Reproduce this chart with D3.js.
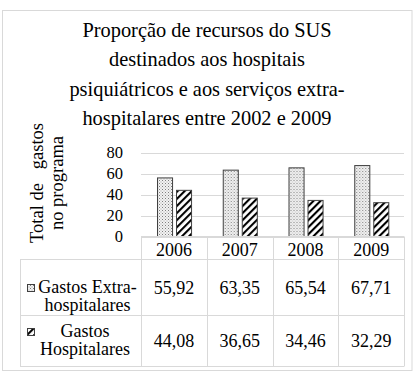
<!DOCTYPE html>
<html>
<head>
<meta charset="utf-8">
<script src="https://cdn.jsdelivr.net/npm/d3@7"></script>
<style>
  body { margin: 0; background: #fff; }
</style>
</head>
<body>
<div id="chart"></div>
<script>
const titleLines = [
    'Proporção de recursos do SUS',
    'destinados aos hospitais',
    'psiquiátricos e aos serviços extra-',
    'hospitalares entre 2002 e 2009',
];
const yTitleLines = ['Total de   gastos', 'no programa'];
const years = ['2006', '2007', '2008', '2009'];
const seriesNames = ['extra', 'hosp'];
const extraValues = [55.92, 63.35, 65.54, 67.71];
const hospValues = [44.08, 36.65, 34.46, 32.29];
const extraLabel = ['Gastos Extra-', 'hospitalares'];
const hospLabel = ['Gastos', 'Hospitalares'];
const yTicks = [0, 20, 40, 60, 80];

const width = 417;
const height = 374;
const font = 'Liberation Serif';
const gridColor = '#d9d9d9';
const lineColor = '#404040';

const svg = d3.select('#chart').append('svg')
    .attr('width', width)
    .attr('height', height)
    .attr('font-family', font)
    .style('display', 'block');

/* s: patterns */
const defs = svg.append('defs');
const dots = defs.append('pattern')
    .attr('id', 'dots')
    .attr('width', 3)
    .attr('height', 3)
    .attr('patternUnits', 'userSpaceOnUse');
dots.append('rect').attr('width', 3).attr('height', 3).attr('fill', '#f2f2f2');
dots.append('rect').attr('x', 0).attr('y', 0).attr('width', 1).attr('height', 1).attr('fill', '#7f7f7f');
dots.append('rect').attr('x', 1.5).attr('y', 1.5).attr('width', 1).attr('height', 1).attr('fill', '#a6a6a6');

const hatch = defs.append('pattern')
    .attr('id', 'hatch')
    .attr('width', 5)
    .attr('height', 5)
    .attr('patternUnits', 'userSpaceOnUse')
    .attr('patternTransform', 'rotate(45)');
hatch.append('rect').attr('width', 5).attr('height', 5).attr('fill', '#fff');
hatch.append('line')
    .attr('x1', 1).attr('y1', 0).attr('x2', 1).attr('y2', 5)
    .attr('stroke', '#000').attr('stroke-width', 2.2);
/* e: patterns */

// outer border
svg.append('rect')
    .attr('x', 2.5).attr('y', 10.5)
    .attr('width', 409.5).attr('height', 360)
    .attr('fill', 'none')
    .attr('stroke', gridColor);

// title
svg.append('g')
    .selectAll('text')
    .data(titleLines)
    .join('text')
    .attr('x', 207)
    .attr('y', (d, i) => 37 + i * 29.3)
    .attr('text-anchor', 'middle')
    .attr('font-size', 20.4)
    .attr('font-family', font)
    .attr('fill', '#000')
    .text((d) => d);

// scales
const x0 = d3.scaleBand().domain(years).range([141, 404]);
const x1 = d3.scaleBand()
    .domain(seriesNames)
    .range([0, x0.bandwidth()])
    .paddingInner(0.21)
    .paddingOuter(0.83);
const y = d3.scaleLinear().domain([0, 80]).range([236.5, 152.7]);

// gridlines
svg.append('g')
    .selectAll('line')
    .data(yTicks)
    .join('line')
    .attr('x1', 141).attr('x2', 404)
    .attr('y1', (d) => Math.round(y(d)) + 0.5)
    .attr('y2', (d) => Math.round(y(d)) + 0.5)
    .attr('stroke', gridColor);

// y tick labels
svg.append('g')
    .selectAll('text')
    .data(yTicks)
    .join('text')
    .attr('x', 123)
    .attr('y', (d) => y(d) + 5.5)
    .attr('text-anchor', 'end')
    .attr('font-size', 16.5)
    .attr('font-family', font)
    .text((d) => d);

// y title
const yTitle = svg.append('g').attr('transform', 'translate(0,183) rotate(-90)');
yTitle.selectAll('text')
    .data(yTitleLines)
    .join('text')
    .attr('x', 0)
    .attr('y', (d, i) => 42.5 + i * 20.5)
    .attr('text-anchor', 'middle')
    .attr('font-size', 18.5)
    .attr('font-family', font)
    .style('white-space', 'pre')
    .text((d) => d);

// bars
const rows = years.map((yr, i) => ({ year: yr, extra: extraValues[i], hosp: hospValues[i] }));
const groups = svg.append('g')
    .selectAll('g')
    .data(rows)
    .join('g')
    .attr('transform', (d) => `translate(${x0(d.year)},0)`);
groups.selectAll('rect')
    .data((d) => seriesNames.map((k) => ({ key: k, value: d[k] })))
    .join('rect')
    .attr('x', (d) => Math.round(x1(d.key)) + 0.5)
    .attr('y', (d) => y(d.value))
    .attr('width', x1.bandwidth())
    .attr('height', (d) => y(0) - y(d.value))
    .attr('fill', (d) => (d.key === 'extra' ? 'url(#dots)' : 'url(#hatch)'))
    .attr('stroke', lineColor)
    .attr('stroke-width', 1);

/* s: data table */
const table = svg.append('g').attr('stroke', gridColor).attr('fill', 'none');
const rowLines = [259, 315, 366];
table.selectAll('.h')
    .data(rowLines)
    .join('line')
    .attr('x1', 20).attr('x2', 404)
    .attr('y1', (d) => d + 0.5).attr('y2', (d) => d + 0.5);
table.append('line')
    .attr('x1', 141).attr('x2', 404)
    .attr('y1', 236.5).attr('y2', 236.5);
const colLines = years.map((d) => x0(d)).concat([404]);
table.selectAll('.v')
    .data(colLines)
    .join('line')
    .attr('x1', (d) => Math.round(d) + 0.5).attr('x2', (d) => Math.round(d) + 0.5)
    .attr('y1', 236.5).attr('y2', 366.5);
table.append('line')
    .attr('x1', 20.5).attr('x2', 20.5)
    .attr('y1', 259.5).attr('y2', 366.5);

// year labels
svg.append('g')
    .selectAll('text')
    .data(years)
    .join('text')
    .attr('x', (d) => x0(d) + x0.bandwidth() / 2)
    .attr('y', 256)
    .attr('text-anchor', 'middle')
    .attr('font-size', 18)
    .attr('font-family', font)
    .text((d) => d);

// value cells
const valueRows = [
    { values: extraValues, y: 293.5 },
    { values: hospValues, y: 346.5 },
];
valueRows.forEach((r) => {
    svg.append('g')
        .selectAll('text')
        .data(r.values)
        .join('text')
        .attr('x', (d, i) => x0(years[i]) + x0.bandwidth() / 2)
        .attr('y', r.y)
        .attr('text-anchor', 'middle')
        .attr('font-size', 18)
        .attr('font-family', font)
        .text((d) => d.toFixed(2).replace('.', ','));
});

// legend cells
const legendRows = [
    { lines: extraLabel, fill: 'url(#dots)', sy: 284, cx: 87.5, y0: 292.5 },
    { lines: hospLabel, fill: 'url(#hatch)', sy: 328, cx: 85, y0: 337 },
];
legendRows.forEach((r) => {
    svg.append('rect')
        .attr('x', 27.5).attr('y', r.sy + 0.5)
        .attr('width', 7).attr('height', 7)
        .attr('fill', r.fill)
        .attr('stroke', lineColor);
    svg.append('g')
        .selectAll('text')
        .data(r.lines)
        .join('text')
        .attr('x', r.cx)
        .attr('y', (d, i) => r.y0 + i * 18)
        .attr('text-anchor', 'middle')
        .attr('font-size', 18)
        .attr('font-family', font)
        .text((d) => d);
});
/* e: data table */
</script>
</body>
</html>
